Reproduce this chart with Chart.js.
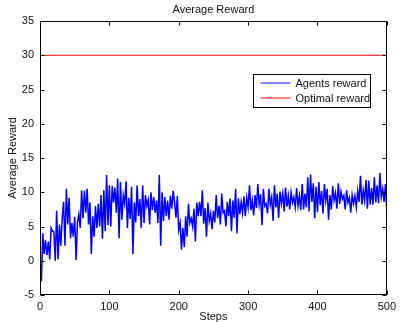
<!DOCTYPE html>
<html>
<head>
<meta charset="utf-8">
<script src="https://cdn.jsdelivr.net/npm/chart.js@4/dist/chart.umd.min.js"></script>
<style>
  html, body { margin: 0; padding: 0; background: #fff; }
  #wrap { width: 401px; height: 322px; }
</style>
</head>
<body>
<div id="wrap"><canvas id="rewardChart" width="401" height="322"></canvas></div>
<script>
// values, every 2nd step
var steps = [];
for (var s = 0; s <= 500; s += 2) steps.push(s);

var agentReward = [
  0, -3, 4, 1, 3, 0.8, 2.8, 0.2, 4.8, 4.3,
  4.2, 0, 7.3, 0.2, 5.3, 2.2, 6.2, 8.6, 2.2, 10.5,
  5.3, 9.2, 3.3, 5.5, 3.5, 6.4, 0.1, 5.6, 6.8, 4.8,
  10.3, 6.2, 10.2, 7, 10.5, 5.3, 8.5, 1, 6.5, 3.5,
  8, 4.8, 8.3, 5, 9.6, 3.2, 10.3, 4.3, 12.5, 5.2,
  11, 5, 10.9, 8.5, 10.7, 7, 12, 3.3, 11.5, 6,
  9.5, 8.3, 11.6, 4.8, 9.2, 6.1, 10.8, 1, 8.5, 5.6,
  11, 6.5, 9, 4.8, 11, 5.5, 9.6, 8, 8.9, 5.3,
  10, 7.4, 9.3, 7, 8.8, 5.5, 12.5, 2.2, 10, 5.8,
  9.3, 6.5, 8.8, 6, 9.5, 7.6, 10.2, 8.5, 6.3, 9.5,
  4.5, 5.5, 1.6, 4.8, 2, 6.5, 3.5, 8.3, 5.5, 6.2,
  5, 7.6, 2.8, 8.5, 6.5, 8.6, 6.5, 10.3, 5.4, 7.7,
  3.5, 8.5, 5.8, 6.9, 4.6, 7.3, 5.6, 9.6, 6.2, 8,
  5.3, 9.8, 7, 7.3, 5, 8.6, 6.5, 9.1, 4.3, 8.8,
  6.3, 10.5, 4, 9.1, 6.8, 8.6, 7, 9.4, 6.5, 9.2,
  7.8, 11, 7.4, 8.8, 6.6, 9.6, 7.7, 11.2, 8.2, 9.7,
  5.2, 10.5, 8, 8.3, 6.9, 10.5, 8.2, 9.3, 5.8, 11,
  7.8, 9.8, 6.3, 10.1, 8.3, 9.8, 7.2, 10.7, 7.9, 9.5,
  7.5, 10, 8.5, 9.3, 7.8, 10.6, 8, 9.5, 7.4, 11.2,
  7.5, 9.8, 7.8, 12.2, 7.2, 12.6, 8.6, 11.3, 6.2, 10.8,
  7.1, 11.5, 8.1, 10.2, 6.9, 11.2, 8.8, 10.5, 6, 9.6,
  7.5, 10.9, 8.8, 9.9, 7.6, 11.3, 8.3, 10.1, 9, 9.5,
  7.5, 10.3, 8.5, 9.2, 7, 9.6, 8.3, 9.5, 7.8, 10.2,
  8.6, 12.4, 8.2, 10.3, 8.8, 11.8, 7.6, 11.7, 8.2, 10.6,
  8.2, 12.2, 8.5, 11, 8.4, 12.8, 9.3, 10.5, 8.6, 11.2,
  7
];

var optimalSteps = [0, 500];
var optimalReward = [30, 30];

var xTicks = [0, 100, 200, 300, 400, 500];
var yTicks = [-5, 0, 5, 10, 15, 20, 25, 30, 35];

function toPoints(xs, ys) {
  var pts = [];
  for (var i = 0; i < xs.length; i++) pts.push({ x: xs[i], y: ys[i] });
  return pts;
}

var FONT = '"Liberation Sans", Arial, Helvetica, sans-serif';

// matlab style box, inward ticks, title and inner legend
var matlabAxes = {
  id: 'matlabAxes',
  afterDraw: function(chart) {
    var ctx = chart.ctx;
    var a = chart.chartArea;
    var xs = chart.scales.x, ys = chart.scales.y;
    var L = Math.round(a.left) + 0.5, R = Math.round(a.right) - 0.5;
    var T = Math.round(a.top) + 0.5, B = Math.round(a.bottom) - 0.5;
    ctx.save();
    ctx.strokeStyle = '#000';
    ctx.lineWidth = 1;
    ctx.strokeRect(L, T, R - L, B - T);
    var tl = 4;
    ctx.beginPath();
    xTicks.forEach(function(v) {
      var px = Math.round(xs.getPixelForValue(v)) + 0.5;
      ctx.moveTo(px, B); ctx.lineTo(px, B - tl);
      ctx.moveTo(px, T); ctx.lineTo(px, T + tl);
    });
    yTicks.forEach(function(v) {
      var py = Math.round(ys.getPixelForValue(v)) + 0.5;
      ctx.moveTo(L, py); ctx.lineTo(L + tl, py);
      ctx.moveTo(R, py); ctx.lineTo(R - tl, py);
    });
    ctx.stroke();

    // title
    ctx.fillStyle = '#111';
    ctx.font = '11px ' + FONT;
    ctx.textAlign = 'center';
    ctx.textBaseline = 'middle';
    ctx.fillText('Average Reward', (a.left + a.right) / 2, 9.5);

    // legend box
    var lx = 253.5, ly = 74.5, lw = 117, lh = 33;
    ctx.fillStyle = '#fff';
    ctx.fillRect(lx, ly, lw, lh);
    ctx.strokeStyle = '#000';
    ctx.strokeRect(lx, ly, lw, lh);
    ctx.textAlign = 'left';
    chart.data.datasets.forEach(function(ds, i) {
      var y = ly + 8.5 + i * 15;
      ctx.strokeStyle = ds.borderColor;
      ctx.globalAlpha = 0.65;
      ctx.lineWidth = 1.5;
      ctx.beginPath();
      ctx.moveTo(lx + 7, y); ctx.lineTo(lx + 37, y);
      ctx.stroke();
      ctx.globalAlpha = 1;
      ctx.fillStyle = '#111';
      ctx.fillText(ds.label, lx + 42, y + 0.5);
    });
    ctx.restore();
  }
};

var ctx = document.getElementById('rewardChart').getContext('2d');
new Chart(ctx, {
  type: 'line',
  data: {
    datasets: [
      {
        label: 'Agents reward',
        data: toPoints(steps, agentReward),
        borderColor: '#0000ff',
        borderWidth: 1.5,
        pointRadius: 0,
        tension: 0
      },
      {
        label: 'Optimal reward',
        data: toPoints(optimalSteps, optimalReward),
        borderColor: '#ff0000',
        borderWidth: 1.2,
        pointRadius: 0,
        tension: 0
      }
    ]
  },
  options: {
    responsive: false,
    animation: false,
    layout: { padding: { top: 21, right: 14, left: 0, bottom: 0 } },
    plugins: {
      legend: { display: false },
      title: { display: false },
      tooltip: { enabled: false }
    },
    scales: {
      x: {
        type: 'linear',
        min: 0,
        max: 500,
        afterFit: function(scale) { scale.height = 27; },
        afterBuildTicks: function(scale) {
          scale.ticks = xTicks.map(function(v) { return { value: v }; });
        },
        grid: { display: false, drawTicks: false },
        border: { display: false },
        ticks: { padding: 5, color: '#111', font: { size: 11, family: FONT } },
        title: {
          display: true,
          text: 'Steps',
          color: '#111',
          padding: 0,
          font: { size: 11, family: FONT, lineHeight: 1 }
        }
      },
      y: {
        min: -5,
        max: 35,
        afterFit: function(scale) { scale.width = 40; },
        afterBuildTicks: function(scale) {
          scale.ticks = yTicks.map(function(v) { return { value: v }; });
        },
        grid: { display: false, drawTicks: false },
        border: { display: false },
        ticks: { padding: 6, color: '#111', font: { size: 11, family: FONT } },
        title: {
          display: true,
          text: 'Average Reward',
          color: '#111',
          padding: { top: 7, bottom: 0 },
          font: { size: 11, family: FONT, lineHeight: 1 }
        }
      }
    }
  },
  plugins: [matlabAxes]
});
</script>
</body>
</html>
